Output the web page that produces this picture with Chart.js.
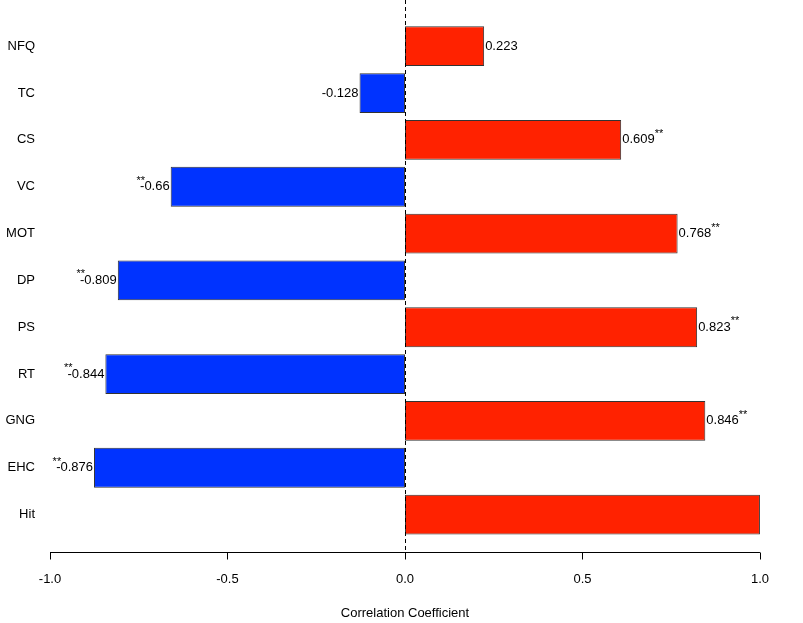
<!DOCTYPE html>
<html><head><meta charset="utf-8">
<script src="https://cdn.jsdelivr.net/npm/chart.js@4/dist/chart.umd.min.js"></script>
<style>html,body{margin:0;padding:0;background:#fff}#w{width:803px;height:623px}</style>
</head><body><div id="w"><canvas id="c"></canvas></div>
<script>
const categories = ["NFQ","TC","CS","VC","MOT","DP","PS","RT","GNG","EHC","Hit"];
const values = [0.223,-0.128,0.609,-0.66,0.768,-0.809,0.823,-0.844,0.846,-0.876,1];
const labels = ["0.223","-0.128","0.609","-0.66","0.768","-0.809","0.823","-0.844","0.846","-0.876",""];
const stars = [false,false,true,true,true,true,true,true,true,true,false];
const xTicks = [-1,-0.5,0,0.5,1];
const F = "'Liberation Sans', Arial, sans-serif";

const overlay = {
  id:'overlay',
  afterDatasetsDraw(chart){
    const ctx = chart.ctx, x = chart.scales.x, a = chart.chartArea;
    ctx.save();
    ctx.strokeStyle='#000'; ctx.lineWidth=1; ctx.setLineDash([4,3]);
    const x0 = Math.round(x.getPixelForValue(0))+0.5;
    ctx.beginPath(); ctx.moveTo(x0,0); ctx.lineTo(x0,a.bottom+14); ctx.stroke();
    ctx.setLineDash([]);
    const ya = a.bottom+14.5;
    ctx.beginPath(); ctx.moveTo(x.getPixelForValue(-1),ya); ctx.lineTo(x.getPixelForValue(1),ya);
    xTicks.forEach(t=>{const p=Math.round(x.getPixelForValue(t))+0.5; ctx.moveTo(p,ya); ctx.lineTo(p,ya+7);});
    ctx.stroke();
    const meta = chart.getDatasetMeta(0);
    ctx.fillStyle='#000'; ctx.textBaseline='middle';
    meta.data.forEach((bar,i)=>{
      if(!labels[i]) return;
      const y = bar.y;
      ctx.font = "13px "+F;
      if(values[i]>=0){
        ctx.textAlign='left';
        const tx = bar.x+1;
        ctx.fillText(labels[i],tx,y);
        if(stars[i]){ const w=ctx.measureText(labels[i]).width; ctx.font="11px "+F; ctx.fillText("**",tx+w,y-6); }
      } else {
        ctx.textAlign='right';
        const tx = bar.x-1;
        ctx.fillText(labels[i],tx,y);
        if(stars[i]){ const w=ctx.measureText(labels[i]).width; ctx.font="11px "+F; ctx.fillText("**",tx-w+5,y-6); }
      }
    });
    ctx.restore();
  }
};

new Chart(document.getElementById('c'),{
  type:'bar',
  data:{labels:categories,datasets:[{data:values,
    backgroundColor:values.map(v=>v>=0?'#ff2200':'#0033ff'),
    borderColor:'#333',borderWidth:1,borderSkipped:false,
    categoryPercentage:0.85,barPercentage:1}]},
  options:{
    indexAxis:'y',responsive:true,maintainAspectRatio:false,animation:false,
    layout:{autoPadding:false,padding:{top:15,right:11,left:0,bottom:0}},
    plugins:{legend:{display:false},tooltip:{enabled:false}},
    scales:{
      x:{min:-1,max:1,
        afterBuildTicks(s){s.ticks=xTicks.map(v=>({value:v}));},
        afterFit(s){s.height=85;},
        grid:{display:false,drawTicks:false},border:{display:false},
        ticks:{padding:34,color:'#000',font:{family:F,size:13},callback:v=>v.toFixed(1)},
        title:{display:true,text:'Correlation Coefficient',color:'#000',font:{family:F,size:13},padding:{top:12,bottom:2}}},
      y:{grid:{display:false,drawTicks:false},border:{display:false},
        afterFit(s){s.width=50;},
        ticks:{padding:15,color:'#000',font:{family:F,size:13}}}
    }
  },
  plugins:[overlay]
});
</script></body></html>
